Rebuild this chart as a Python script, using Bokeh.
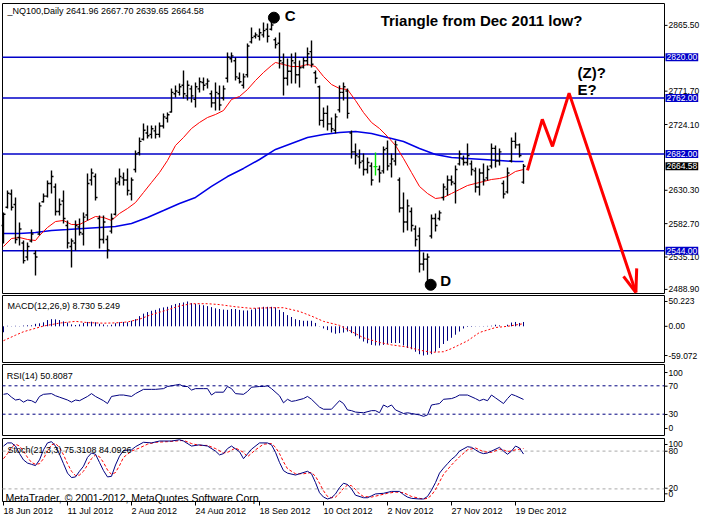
from bokeh.plotting import figure
from bokeh.models import Range1d, Label, ColumnDataSource
from bokeh.layouts import column
from bokeh.embed import file_html
from bokeh.resources import INLINE
from bokeh.core.properties import value

# ---------------- data ----------------
symbol = "_NQ100,Daily"
date_idx = [0, 16, 32, 48, 64, 80, 96, 112, 128]
date_labels = ["18 Jun 2012", "11 Jul 2012", "2 Aug 2012", "24 Aug 2012", "18 Sep 2012",
               "10 Oct 2012", "2 Nov 2012", "27 Nov 2012", "19 Dec 2012"]

bar_open = [2580, 2606, 2625, 2610, 2563, 2555, 2535, 2558, 2540, 2568,
            2614, 2622, 2640, 2635, 2600, 2615, 2580, 2550, 2555, 2578,
            2568, 2595, 2645, 2650, 2590, 2560, 2560, 2572, 2596, 2642,
            2648, 2645, 2625, 2660, 2684, 2703, 2712, 2710, 2715, 2710,
            2722, 2733, 2742, 2768, 2770, 2780, 2765, 2775, 2760, 2775,
            2784, 2782, 2768, 2755, 2768, 2762, 2790, 2818, 2815, 2790,
            2780, 2795, 2842, 2850, 2850, 2852, 2860, 2860, 2845, 2840,
            2812, 2790, 2800, 2812, 2795, 2806, 2815, 2828, 2798, 2778,
            2730, 2740, 2725, 2716, 2745, 2770, 2772, 2712, 2685, 2678,
            2672, 2660, 2665, 2664, 2660, 2658, 2690, 2668, 2672, 2645,
            2605, 2585, 2600, 2575, 2565, 2525, 2532, 2565, 2590, 2590,
            2620, 2632, 2645, 2640, 2668, 2675, 2670, 2668, 2658, 2635,
            2655, 2648, 2665, 2690, 2672, 2640, 2628, 2672, 2700, 2695,
            2641.96]
bar_high = [2598.6, 2630.0, 2631.4, 2620.0, 2584.3, 2558.6, 2555.8, 2574.3, 2544.4, 2612.8,
            2625.7, 2644.2, 2658.5, 2640.0, 2618.6, 2630.0, 2587.2, 2561.5, 2587.2, 2590.0,
            2598.6, 2654.2, 2661.4, 2654.2, 2594.3, 2594.3, 2565.8, 2597.2, 2648.5, 2661.4,
            2655.6, 2661.4, 2648.5, 2687.0, 2705.6, 2725.5, 2722.7, 2722.7, 2722.7, 2727.0,
            2739.8, 2741.2, 2775.5, 2779.7, 2782.6, 2801.1, 2786.9, 2779.7, 2784.0, 2791.2,
            2791.2, 2789.7, 2772.6, 2784.0, 2779.7, 2779.7, 2826.8, 2826.8, 2819.7, 2798.3,
            2796.9, 2839.7, 2862.5, 2855.4, 2861.1, 2869.6, 2868.2, 2872.5, 2848.2, 2855.4,
            2825.4, 2818.3, 2825.4, 2826.8, 2815.4, 2819.7, 2834.0, 2843.9, 2801.1, 2779.7,
            2748.4, 2751.2, 2734.1, 2739.8, 2779.7, 2784.0, 2775.5, 2715.6, 2697.0, 2688.5,
            2682.7, 2677.0, 2669.9, 2684.2, 2665.6, 2692.7, 2701.3, 2682.7, 2701.3, 2648.5,
            2627.1, 2617.1, 2605.7, 2580.0, 2577.2, 2541.5, 2540.1, 2595.7, 2597.2, 2601.4,
            2640.0, 2651.4, 2651.4, 2665.6, 2687.0, 2679.9, 2697.0, 2672.8, 2662.8, 2661.4,
            2668.5, 2665.6, 2697.0, 2694.2, 2689.9, 2644.2, 2662.8, 2705.6, 2712.7, 2697.0,
            2667.70]
bar_low = [2554.4, 2604.3, 2601.4, 2554.4, 2551.5, 2525.8, 2530.1, 2555.8, 2508.7, 2565.8,
           2612.8, 2620.0, 2625.7, 2594.3, 2594.3, 2582.9, 2547.2, 2520.1, 2544.4, 2565.8,
           2551.5, 2587.2, 2637.1, 2615.7, 2547.2, 2554.4, 2533.0, 2568.6, 2594.3, 2637.1,
           2637.1, 2622.8, 2615.7, 2655.6, 2679.9, 2701.3, 2704.1, 2704.1, 2704.1, 2705.6,
           2718.4, 2727.0, 2741.2, 2762.6, 2765.5, 2761.2, 2758.4, 2755.5, 2748.4, 2769.8,
           2772.6, 2775.5, 2748.4, 2744.1, 2744.1, 2758.4, 2784.0, 2812.6, 2786.9, 2782.6,
           2775.5, 2791.2, 2839.7, 2846.8, 2843.9, 2848.2, 2841.1, 2858.2, 2832.5, 2804.0,
           2765.5, 2779.7, 2782.6, 2782.6, 2776.9, 2804.0, 2808.3, 2805.4, 2782.6, 2722.7,
           2719.8, 2715.6, 2712.7, 2711.3, 2741.2, 2758.4, 2732.7, 2675.6, 2667.1, 2661.4,
           2651.4, 2654.2, 2637.1, 2651.4, 2641.4, 2654.2, 2658.5, 2648.5, 2665.6, 2598.6,
           2570.0, 2572.9, 2571.5, 2550.1, 2513.0, 2515.8, 2494.4, 2561.5, 2571.5, 2587.2,
           2615.7, 2622.8, 2637.1, 2611.4, 2665.6, 2665.6, 2665.6, 2651.4, 2627.1, 2622.8,
           2637.1, 2644.2, 2661.4, 2662.8, 2665.6, 2618.6, 2625.7, 2669.9, 2689.9, 2677.0,
           2639.65]
bar_close = [2596, 2626, 2606, 2560, 2575, 2530, 2550, 2568, 2535, 2608,
             2622, 2640, 2650, 2600, 2610, 2590, 2555, 2558, 2580, 2570,
             2592, 2640, 2655, 2620, 2560, 2585, 2545, 2590, 2640, 2650,
             2645, 2630, 2645, 2682, 2700, 2716, 2708, 2718, 2710, 2722,
             2735, 2738, 2770, 2772, 2778, 2768, 2780, 2765, 2778, 2785,
             2780, 2786, 2755, 2770, 2752, 2775, 2820, 2822, 2792, 2785,
             2792, 2836, 2848, 2852, 2855, 2858, 2850, 2866, 2838, 2815,
             2790, 2800, 2815, 2795, 2805, 2815, 2825, 2810, 2790, 2730,
             2740, 2725, 2718, 2735, 2770, 2778, 2740, 2685, 2680, 2670,
             2660, 2670, 2645, 2664, 2655, 2688, 2665, 2675, 2695, 2605,
             2585, 2608, 2580, 2560, 2525, 2532, 2535, 2590, 2580, 2598,
             2635, 2645, 2642, 2660, 2682, 2670, 2680, 2660, 2635, 2655,
             2645, 2660, 2690, 2672, 2685, 2625, 2655, 2700, 2695, 2680,
             2664.58]

ma_fast_idx = [0, 2, 4, 6, 8, 9, 11, 13, 15, 17, 19, 21, 23, 25, 27, 29, 31, 33, 35, 37, 39, 41,
               43, 45, 47, 49, 51, 53, 55, 57, 59, 61, 63, 65, 67, 68, 70, 72, 74, 76, 78, 80,
               82, 84, 86, 88, 90, 92, 94, 96, 98, 100, 102, 104, 106, 108, 110, 112, 114, 116,
               118, 120, 122, 124, 126, 128, 130]
ma_fast = [2550.1, 2561.5, 2562.9, 2560.1, 2558.6, 2565.8, 2577.2, 2585.7, 2587.2, 2581.5,
           2581.5, 2587.2, 2592.9, 2591.5, 2587.2, 2597.2, 2604.3, 2612.8, 2627.1, 2641.4,
           2655.6, 2672.8, 2694.2, 2705.6, 2718.4, 2727.0, 2734.1, 2738.4, 2744.1, 2759.8,
           2764.1, 2774.0, 2786.9, 2798.3, 2808.3, 2812.6, 2809.7, 2806.8, 2806.8, 2809.7,
           2806.8, 2792.6, 2781.2, 2775.5, 2774.0, 2758.4, 2741.2, 2727.0, 2718.4, 2707.0,
           2694.2, 2675.6, 2655.6, 2635.7, 2625.7, 2618.6, 2620.0, 2625.7, 2631.4, 2637.1,
           2640.0, 2642.8, 2645.7, 2647.1, 2650.0, 2657.1, 2659.9]
ma_slow_idx = [0, 4, 8, 12, 16, 20, 24, 28, 32, 36, 40, 44, 48, 52, 56, 60, 64, 68, 72, 76,
               80, 84, 88, 92, 96, 100, 104, 108, 112, 116, 120, 124, 128, 130]
ma_slow = [2568.6, 2568.6, 2570.0, 2572.9, 2574.3, 2575.8, 2577.2, 2578.6, 2582.9, 2591.5,
           2601.4, 2611.4, 2620.0, 2635.7, 2649.9, 2661.4, 2674.2, 2688.5, 2697.0, 2705.6,
           2709.8, 2712.7, 2714.1, 2711.3, 2705.6, 2699.9, 2689.9, 2681.3, 2677.0, 2675.6,
           2674.2, 2672.8, 2671.3, 2671.3]

levels_blue = [2820.0, 2762.0, 2682.0, 2544.0]
price_ticks = [2865.5, 2771.7, 2724.1, 2630.3, 2582.7, 2535.1, 2488.9]

# projected path (hand-drawn red arrow)
proj_x = [131, 134.7, 137.25, 141.4, 158.1]
proj_y = [2658.7, 2731.4, 2692.9, 2768.9, 2484.5]
wing_l_x = [155.0, 158.1]
wing_l_y = [2507.5, 2484.5]
wing_r_x = [158.3, 158.1]
wing_r_y = [2518.9, 2484.5]

title_text = "Triangle from Dec 2011 low?"
wave_text = ["C", "D", "(Z)?", "E?"]
wave_x = [70.3, 109.2, 143.5, 143.5]
wave_y = [2879.0, 2501.0, 2798.0, 2774.0]
dot_x = [67.6, 106.8]
dot_y = [2876.5, 2495.5]

macd_hist = [-12, 1, 0.5, 1, 0.5, 1.5, 2, 2, 5, 6,
             8, 12.6, 14.4, 14, 12.6, 10, 7.6, 3.8, 2.6, 3.8,
             6.8, 8.8, 9.4, 8.2, 5, 3.8, 1.8, 3.2, 6.2, 8.2,
             8.8, 8.2, 11.2, 14.4, 20.6, 25.6, 28.8, 31.4, 33.2, 36.4,
             38.2, 39.4, 42.6, 45.2, 47, 48.2, 50.2, 47, 45.2, 43.8,
             42.6, 40.8, 38.8, 36.4, 35, 33.8, 33.2, 35, 35, 33.2,
             32, 32, 33.8, 36.4, 38.2, 39.4, 39.4, 39.4, 38.2, 33.2,
             28.8, 22.6, 18.8, 14.4, 12.6, 11.2, 11.2, 11.2, 6.8, 0.5,
             -4.4, -7.6, -12.6, -15, -13.8, -12.6, -10.6, -13.8, -20, -25,
             -30.8, -34.4, -37.6, -38.8, -38.8, -37.6, -35.8, -33.8, -33.8, -33.8,
             -38.8, -43.8, -46.4, -51.4, -56.4, -59.07, -57.6, -56.4, -51.4, -43.8,
             -35.8, -29.4, -23.2, -17, -10.6, -4.4, -1.2, -1, -0.5, 0.4,
             0.6, 0.8, 1.2, 3.2, 1.8, 0, 3.2, 7.6, 8.8, 6.8,
             8.73]
signal_idx = [0, 3, 5, 8, 10, 14, 18, 21, 25, 28, 31, 34, 37, 41, 44, 47, 51, 54, 58, 62,
              67, 70, 74, 77, 80, 84, 87, 90, 94, 97, 101, 104, 107, 110, 112, 116, 119, 123, 126, 130]
signal = [-29, -18, -11, -4, 0.5, 6.5, 10, 7.5, 6.3, 6.9, 8.8, 14.4, 23.8, 33.2, 41.3, 45.7,
          45.7, 43.9, 39.5, 36.3, 37.6, 37.6, 30, 20.7, 10, 1.9, -10.6, -23.2, -32.6, -37.6,
          -42, -48.2, -52.6, -51.4, -45.1, -29.4, -12.5, -2.5, 0, 5.249]
macd_scale_labels = ["50.223", "0.00", "-59.072"]

rsi_idx = [0, 1, 2, 3, 4, 5, 6, 7, 8, 9, 10, 12, 13, 14, 16, 17, 18, 19, 21, 22, 23, 25, 26, 27,
           29, 30, 32, 33, 35, 37, 38, 40, 41, 43, 44, 45, 46, 47, 48, 50, 51, 52, 53, 55, 56,
           57, 58, 60, 61, 62, 64, 65, 66, 67, 69, 70, 71, 72, 73, 75, 76, 77, 79, 80, 82, 84,
           85, 86, 87, 88, 90, 92, 93, 94, 95, 96, 97, 98, 100, 101, 102, 104, 105, 106, 107,
           108, 109, 110, 112, 113, 114, 116, 118, 119, 120, 121, 122, 123, 125, 126, 127, 128, 130]
rsi = [58, 59, 54, 50, 51, 47, 50, 49, 46, 55, 58, 59, 56, 54, 50, 47, 50, 49, 55, 59, 55, 49,
       45, 55, 57, 57, 55, 59, 65, 65, 65, 66, 69, 71, 72, 69, 69, 64, 66, 66, 66, 57, 61, 61,
       69, 66, 59, 58, 62, 68, 69, 69, 70, 66, 56, 46, 51, 48, 49, 52, 55, 51, 40, 37, 37, 49,
       45, 36, 35, 33, 32, 35, 35, 32, 43, 40, 43, 36, 31, 32, 31, 29, 27, 29, 43, 44, 45, 51,
       52, 54, 57, 57, 52, 49, 51, 49, 57, 53, 45, 52, 58, 56, 50.8087]
rsi_levels = [70, 30]
rsi_scale_labels = ["100", "70", "30", "0"]

stoch_k_idx = [0, 1, 2, 3, 4, 5, 6, 7, 8, 9, 10, 11, 12, 13, 14, 15, 16, 17, 18, 19, 20, 21, 22,
               23, 24, 25, 26, 27, 28, 29, 30, 32, 33, 35, 37, 39, 42, 44, 45, 47, 49, 51, 53, 54,
               55, 56, 57, 59, 60, 62, 64, 66, 67, 68, 69, 70, 71, 73, 74, 76, 77, 78, 79, 80, 81,
               82, 83, 84, 85, 86, 87, 88, 90, 91, 92, 93, 95, 97, 99, 100, 101, 102, 104, 105,
               106, 107, 108, 109, 110, 111, 112, 113, 114, 116, 117, 118, 119, 120, 121, 122,
               124, 125, 126, 127, 128, 129, 130]
stoch_k = [88, 93, 93, 88, 76, 66, 61, 59, 57, 66, 82, 93, 95, 88, 75, 60, 45, 38, 39, 48, 56,
           70, 77, 75, 62, 49, 39, 40, 58, 72, 81, 82, 87, 94, 93, 96, 96, 98, 96, 88, 90, 88, 80,
           74, 76, 84, 88, 79, 68, 83, 93, 93, 90, 78, 62, 49, 45, 42, 44, 48, 44, 30, 14, 7, 4,
           6, 12, 22, 29, 27, 20, 10, 6, 6, 9, 12, 13, 16, 16, 11, 7, 5, 4, 4, 8, 18, 30, 45, 53,
           60, 67, 72, 80, 87, 86, 82, 78, 76, 77, 80, 86, 80, 75, 80, 88, 85, 75.3108]
stoch_d_idx = [0, 1, 2, 3, 4, 5, 6, 7, 8, 9, 10, 11, 12, 13, 14, 15, 16, 17, 18, 19, 20, 21, 22,
               23, 24, 25, 26, 27, 28, 29, 30, 32, 34, 36, 38, 41, 43, 45, 47, 49, 51, 53, 55, 56,
               58, 60, 61, 63, 65, 67, 68, 69, 70, 71, 73, 75, 77, 78, 79, 80, 81, 82, 83, 84, 85,
               86, 87, 88, 89, 90, 92, 94, 96, 98, 100, 101, 102, 104, 105, 106, 107, 108, 109,
               110, 112, 114, 116, 118, 120, 122, 124, 125, 126, 128, 130]
stoch_d = [68, 76, 86, 91, 88, 80, 70, 62, 59, 60, 68, 80, 90, 92, 86, 74, 60, 48, 41, 42, 48,
           58, 68, 74, 71, 62, 50, 43, 46, 57, 70, 80, 85, 91, 94, 95, 96, 97, 92, 89, 89, 84, 77,
           78, 85, 78, 71, 82, 91, 92, 86, 76, 63, 52, 44, 44, 46, 40, 29, 17, 8, 6, 7, 13, 21,
           26, 25, 19, 12, 8, 7, 10, 13, 15, 14, 11, 8, 5, 4, 5, 10, 19, 31, 43, 58, 71, 82, 85,
           79, 78, 83, 82, 79, 82, 84.0926]
stoch_levels = [80, 20]
stoch_scale_labels = ["100", "80", "20", "0"]

# ---------------- styling / geometry ----------------
FONT = "Liberation Sans"
SCALE_FS = "8.5px"
BLUE = "#0000C8"
NAVY = "#000080"
W = 700
PX_PER_BAR = 4.0
X0 = -0.75                      # bar i sits at pixel 3 + 4 i
XR = Range1d(X0, X0 + W / PX_PER_BAR)
BOX_L, BOX_R = -0.25, 165.25    # plot-frame edges in bar units
LAB_X = BOX_R + 1.0
TICK_X = BOX_R + 0.75


def panel(h, box_top_px, box_px, vmin, vmax):
    upp = (vmax - vmin) / box_px
    ytop = vmax + box_top_px * upp
    ybot = vmin - (h - box_top_px - box_px) * upp
    p = figure(frame_width=W, frame_height=h, x_range=XR, y_range=Range1d(ybot, ytop),
               output_backend="svg", toolbar_location=None, x_axis_location=None,
               y_axis_location=None, min_border=0, background_fill_color="white",
               border_fill_color="white")
    p.outline_line_color = None
    p.grid.visible = False
    p.quad(left=[BOX_L], right=[BOX_R], bottom=[vmin], top=[vmax], fill_color=None,
           line_color="black", line_width=1)
    return p, upp


def text(p, xs, ys, strs, size="9px", bold=False, color="black", align="left"):
    p.text(x=xs, y=ys, text=strs, text_font=value(FONT), text_font_size=size,
           text_font_style=("bold" if bold else "normal"), text_color=color,
           text_baseline="middle", text_align=align)


def right_scale(p, pos, strs):
    k = len(pos)
    p.segment(x0=[BOX_R] * k, y0=pos, x1=[TICK_X] * k, y1=pos, line_color="black", line_width=1)
    text(p, [LAB_X] * k, pos, strs, size=SCALE_FS)


def hlines(p, levels, color, width=1.0, dash="solid"):
    k = len(levels)
    p.segment(x0=[BOX_L] * k, y0=levels, x1=[BOX_R] * k, y1=levels, line_color=color,
              line_width=width, line_dash=dash)


def tag(p, y, txt, bg):
    p.add_layout(Label(x=BOX_R, y=y, x_offset=1, text=txt, text_font=FONT,
                       text_font_size=SCALE_FS, text_color="white", text_align="left",
                       text_baseline="middle", background_fill_color=bg,
                       background_fill_alpha=1.0, padding=1))


n = len(bar_close)
idx = list(range(n))
src = ColumnDataSource(dict(
    x=idx, xl=[i - 0.5 for i in idx], xr=[i + 0.5 for i in idx],
    o=bar_open, h=bar_high, l=bar_low, c=bar_close,
    col=["#00E000" if o == c else "black" for o, c in zip(bar_open, bar_close)]))

# ---------- main price panel ----------
p1, _ = panel(294, 3, 290, 2483.04, 2896.72)
hlines(p1, levels_blue, BLUE, 1.5)
p1.line(ma_slow_idx, ma_slow, line_color="#0000E6", line_width=1.5)
p1.line(ma_fast_idx, ma_fast, line_color="#FF0000", line_width=1)
p1.segment(x0="x", y0="l", x1="x", y1="h", source=src, line_color="col", line_width=1.4)
p1.segment(x0="xl", y0="o", x1="x", y1="o", source=src, line_color="col", line_width=1.4)
p1.segment(x0="x", y0="c", x1="xr", y1="c", source=src, line_color="col", line_width=1.4)
p1.line(proj_x, proj_y, line_color="#FF0000", line_width=3)
p1.line(wing_l_x, wing_l_y, line_color="#FF0000", line_width=3)
p1.line(wing_r_x, wing_r_y, line_color="#FF0000", line_width=3)
p1.scatter(dot_x, dot_y, size=11, marker="circle", fill_color="black", line_color="black")
header = symbol + "  " + " ".join("%.2f" % v for v in
                                  (bar_open[-1], bar_high[-1], bar_low[-1], bar_close[-1]))
text(p1, [1.0], [2886.7], [header])
text(p1, [94.3], [2872.5], [title_text], size="15px", bold=True)
text(p1, wave_x, wave_y, wave_text, size="15px", bold=True)
right_scale(p1, price_ticks, ["%.2f" % v for v in price_ticks])
for lv in levels_blue:
    tag(p1, lv, "%.2f" % lv, BLUE)
tag(p1, bar_close[-1], "%.2f" % bar_close[-1], "black")

# ---------- MACD panel ----------
p2, _ = panel(69, 1, 67, -73.2, 62.3)
p2.segment(x0=idx, y0=[0] * n, x1=idx, y1=macd_hist, line_color=NAVY, line_width=1)
p2.line(signal_idx, signal, line_color="#FF0000", line_width=1, line_dash="2 2")
right_scale(p2, [50.2, 0.0, -59.1], macd_scale_labels)
text(p2, [1.0], [42.0], ["MACD(12,26,9) %.3f %.3f" % (macd_hist[-1], signal[-1])])

# ---------- RSI panel ----------
p3, _ = panel(74, 1, 71, 0, 100)
hlines(p3, rsi_levels, NAVY, 1, "3 3")
p3.line(rsi_idx, rsi, line_color=NAVY, line_width=1)
right_scale(p3, [88.7, 69.5, 29.6, 9.9], rsi_scale_labels)
text(p3, [0.8], [84.5], ["RSI(14) %.4f" % rsi[-1]])

# ---------- Stochastic panel + date scale ----------
p4, upp4 = panel(77, 1, 63, 0, 100)
hlines(p4, stoch_levels, "#A8A8A8", 1, "3 3")
p4.line(stoch_d_idx, stoch_d, line_color="#FF0000", line_width=1, line_dash="3 2")
p4.line(stoch_k_idx, stoch_k, line_color=NAVY, line_width=1)
right_scale(p4, [90.5, 79.8, 21.1, 12.2], stoch_scale_labels)
text(p4, [1.0], [81.0], ["Stoch(21,3,3) %.4f %.4f" % (stoch_k[-1], stoch_d[-1])])
text(p4, [0.5], [6.3], ["MetaTrader, \u00a9 2001-2012, MetaQuotes Software Corp."], size="10.5px")
k = len(date_idx)
p4.segment(x0=date_idx, y0=[0] * k, x1=date_idx, y1=[-4 * upp4] * k, line_color="black",
           line_width=1)
text(p4, date_idx, [-9 * upp4] * k, date_labels)

layout = column(p1, p2, p3, p4, spacing=0)

open("out.html", "w").write(file_html(layout, INLINE))
